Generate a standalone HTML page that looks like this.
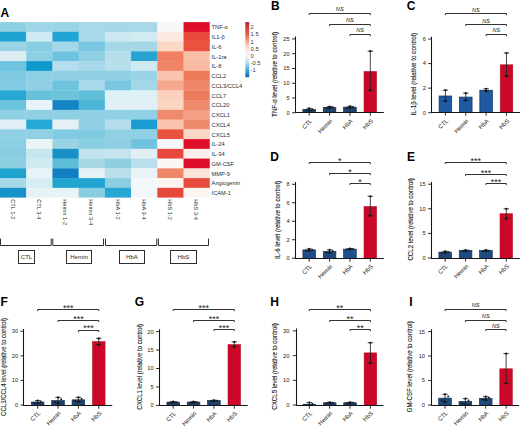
<!DOCTYPE html>
<html><head><meta charset="utf-8"><title>Figure</title>
<style>
html,body{margin:0;padding:0;background:#fff;}
body{width:520px;height:427px;overflow:hidden;}
svg{display:block;}
text{font-family:"Liberation Sans", sans-serif;fill:#1a1a1a;}
.th{stroke:#1a1a1a;stroke-width:0.1px;}
.rl{font-size:5.7px;fill:#2a2a2a;}
.cbl{font-size:5.8px;fill:#333;}
.cl{font-size:5.6px;fill:#2a2a2a;}
.gl{font-size:6.1px;text-anchor:middle;fill:#2a2a2a;}
.pl{font-size:12px;font-weight:bold;fill:#000;}
.tk{font-size:5.7px;text-anchor:end;fill:#222;}
.xl{font-size:6.0px;text-anchor:end;fill:#222;}
.yl{font-size:6.6px;}
.sg{font-size:9px;text-anchor:middle;fill:#222;}
.sgi{font-size:5.6px;text-anchor:middle;font-style:italic;}
</style></head>
<body><svg width="520" height="427" viewBox="0 0 520 427">
<rect width="520" height="427" fill="#fff"/>
<text x="0.4" y="16.9" class="pl">A</text>
<rect x="0.00" y="22.10" width="26.52" height="10.05" fill="#8ecfe4"/>
<rect x="26.22" y="22.10" width="26.52" height="10.05" fill="#9ed5e7"/>
<rect x="52.44" y="22.10" width="26.52" height="10.05" fill="#9ad3e6"/>
<rect x="78.66" y="22.10" width="26.52" height="10.05" fill="#a8d9ea"/>
<rect x="104.88" y="22.10" width="26.52" height="10.05" fill="#a5d7e6"/>
<rect x="131.10" y="22.10" width="26.52" height="10.05" fill="#a8d8e7"/>
<rect x="157.32" y="22.10" width="26.52" height="10.05" fill="#f7f7f7"/>
<rect x="183.54" y="22.10" width="26.22" height="10.05" fill="#e0102a"/>
<rect x="0.00" y="31.85" width="26.52" height="10.05" fill="#1ea4d3"/>
<rect x="26.22" y="31.85" width="26.52" height="10.05" fill="#d0eaf3"/>
<rect x="52.44" y="31.85" width="26.52" height="10.05" fill="#20a5d4"/>
<rect x="78.66" y="31.85" width="26.52" height="10.05" fill="#a8d9ea"/>
<rect x="104.88" y="31.85" width="26.52" height="10.05" fill="#cde8f1"/>
<rect x="131.10" y="31.85" width="26.52" height="10.05" fill="#d2eaf2"/>
<rect x="157.32" y="31.85" width="26.52" height="10.05" fill="#fdeae2"/>
<rect x="183.54" y="31.85" width="26.22" height="10.05" fill="#e84a3c"/>
<rect x="0.00" y="41.60" width="26.52" height="10.05" fill="#9ad3e6"/>
<rect x="26.22" y="41.60" width="26.52" height="10.05" fill="#86cce2"/>
<rect x="52.44" y="41.60" width="26.52" height="10.05" fill="#a2d6e8"/>
<rect x="78.66" y="41.60" width="26.52" height="10.05" fill="#78c6e0"/>
<rect x="104.88" y="41.60" width="26.52" height="10.05" fill="#a5d7e6"/>
<rect x="131.10" y="41.60" width="26.52" height="10.05" fill="#a5d7e6"/>
<rect x="157.32" y="41.60" width="26.52" height="10.05" fill="#fbd7c6"/>
<rect x="183.54" y="41.60" width="26.22" height="10.05" fill="#e9523f"/>
<rect x="0.00" y="51.35" width="26.52" height="10.05" fill="#dcedf4"/>
<rect x="26.22" y="51.35" width="26.52" height="10.05" fill="#8fd0e4"/>
<rect x="52.44" y="51.35" width="26.52" height="10.05" fill="#6ec3de"/>
<rect x="78.66" y="51.35" width="26.52" height="10.05" fill="#8fd0e4"/>
<rect x="104.88" y="51.35" width="26.52" height="10.05" fill="#b5deea"/>
<rect x="131.10" y="51.35" width="26.52" height="10.05" fill="#26a5d3"/>
<rect x="157.32" y="51.35" width="26.52" height="10.05" fill="#ef7f60"/>
<rect x="183.54" y="51.35" width="26.22" height="10.05" fill="#f9c0a8"/>
<rect x="0.00" y="61.10" width="26.52" height="10.05" fill="#6ec3de"/>
<rect x="26.22" y="61.10" width="26.52" height="10.05" fill="#0f9acf"/>
<rect x="52.44" y="61.10" width="26.52" height="10.05" fill="#b4dded"/>
<rect x="78.66" y="61.10" width="26.52" height="10.05" fill="#a8d9ea"/>
<rect x="104.88" y="61.10" width="26.52" height="10.05" fill="#b7dfeb"/>
<rect x="131.10" y="61.10" width="26.52" height="10.05" fill="#cfe9f1"/>
<rect x="157.32" y="61.10" width="26.52" height="10.05" fill="#f08466"/>
<rect x="183.54" y="61.10" width="26.22" height="10.05" fill="#f9bca3"/>
<rect x="0.00" y="70.85" width="26.52" height="10.05" fill="#7fc9e1"/>
<rect x="26.22" y="70.85" width="26.52" height="10.05" fill="#8dcfe4"/>
<rect x="52.44" y="70.85" width="26.52" height="10.05" fill="#8fd0e4"/>
<rect x="78.66" y="70.85" width="26.52" height="10.05" fill="#8fd0e4"/>
<rect x="104.88" y="70.85" width="26.52" height="10.05" fill="#8fd0e4"/>
<rect x="131.10" y="70.85" width="26.52" height="10.05" fill="#9ad3e6"/>
<rect x="157.32" y="70.85" width="26.52" height="10.05" fill="#f9c4ae"/>
<rect x="183.54" y="70.85" width="26.22" height="10.05" fill="#ee7a5c"/>
<rect x="0.00" y="80.60" width="26.52" height="10.05" fill="#80cae2"/>
<rect x="26.22" y="80.60" width="26.52" height="10.05" fill="#90d0e4"/>
<rect x="52.44" y="80.60" width="26.52" height="10.05" fill="#6ec3de"/>
<rect x="78.66" y="80.60" width="26.52" height="10.05" fill="#a8d9ea"/>
<rect x="104.88" y="80.60" width="26.52" height="10.05" fill="#78c6e0"/>
<rect x="131.10" y="80.60" width="26.52" height="10.05" fill="#a2d6e8"/>
<rect x="157.32" y="80.60" width="26.52" height="10.05" fill="#f6a88c"/>
<rect x="183.54" y="80.60" width="26.22" height="10.05" fill="#f08668"/>
<rect x="0.00" y="90.35" width="26.52" height="10.05" fill="#27a8d3"/>
<rect x="26.22" y="90.35" width="26.52" height="10.05" fill="#66c1db"/>
<rect x="52.44" y="90.35" width="26.52" height="10.05" fill="#6cc3dc"/>
<rect x="78.66" y="90.35" width="26.52" height="10.05" fill="#5fbfd9"/>
<rect x="104.88" y="90.35" width="26.52" height="10.05" fill="#dcf0f6"/>
<rect x="131.10" y="90.35" width="26.52" height="10.05" fill="#dcf0f6"/>
<rect x="157.32" y="90.35" width="26.52" height="10.05" fill="#fbd0bf"/>
<rect x="183.54" y="90.35" width="26.22" height="10.05" fill="#ee7a5c"/>
<rect x="0.00" y="100.10" width="26.52" height="10.05" fill="#6cc3dc"/>
<rect x="26.22" y="100.10" width="26.52" height="10.05" fill="#e9f4f8"/>
<rect x="52.44" y="100.10" width="26.52" height="10.05" fill="#1484c4"/>
<rect x="78.66" y="100.10" width="26.52" height="10.05" fill="#4ab5d7"/>
<rect x="104.88" y="100.10" width="26.52" height="10.05" fill="#e0f0f6"/>
<rect x="131.10" y="100.10" width="26.52" height="10.05" fill="#e0f0f6"/>
<rect x="157.32" y="100.10" width="26.52" height="10.05" fill="#fbd3c1"/>
<rect x="183.54" y="100.10" width="26.22" height="10.05" fill="#f08a6c"/>
<rect x="0.00" y="109.85" width="26.52" height="10.05" fill="#8fd0e4"/>
<rect x="26.22" y="109.85" width="26.52" height="10.05" fill="#8fd0e4"/>
<rect x="52.44" y="109.85" width="26.52" height="10.05" fill="#8fd0e4"/>
<rect x="78.66" y="109.85" width="26.52" height="10.05" fill="#8fd0e4"/>
<rect x="104.88" y="109.85" width="26.52" height="10.05" fill="#8fd0e4"/>
<rect x="131.10" y="109.85" width="26.52" height="10.05" fill="#8fd0e4"/>
<rect x="157.32" y="109.85" width="26.52" height="10.05" fill="#f08a6c"/>
<rect x="183.54" y="109.85" width="26.22" height="10.05" fill="#f4a084"/>
<rect x="0.00" y="119.60" width="26.52" height="10.05" fill="#e0eff5"/>
<rect x="26.22" y="119.60" width="26.52" height="10.05" fill="#27a7d5"/>
<rect x="52.44" y="119.60" width="26.52" height="10.05" fill="#e3f0f6"/>
<rect x="78.66" y="119.60" width="26.52" height="10.05" fill="#8fd0e4"/>
<rect x="104.88" y="119.60" width="26.52" height="10.05" fill="#b4dded"/>
<rect x="131.10" y="119.60" width="26.52" height="10.05" fill="#1a9ed1"/>
<rect x="157.32" y="119.60" width="26.52" height="10.05" fill="#f9c3ad"/>
<rect x="183.54" y="119.60" width="26.22" height="10.05" fill="#f08a6c"/>
<rect x="0.00" y="129.35" width="26.52" height="10.05" fill="#8fd0e4"/>
<rect x="26.22" y="129.35" width="26.52" height="10.05" fill="#8fd0e4"/>
<rect x="52.44" y="129.35" width="26.52" height="10.05" fill="#80cae2"/>
<rect x="78.66" y="129.35" width="26.52" height="10.05" fill="#80cae2"/>
<rect x="104.88" y="129.35" width="26.52" height="10.05" fill="#8fd0e4"/>
<rect x="131.10" y="129.35" width="26.52" height="10.05" fill="#8fd0e4"/>
<rect x="157.32" y="129.35" width="26.52" height="10.05" fill="#e8533f"/>
<rect x="183.54" y="129.35" width="26.22" height="10.05" fill="#fbd6c6"/>
<rect x="0.00" y="139.10" width="26.52" height="10.05" fill="#8acfe2"/>
<rect x="26.22" y="139.10" width="26.52" height="10.05" fill="#eaf5f8"/>
<rect x="52.44" y="139.10" width="26.52" height="10.05" fill="#9ad3e4"/>
<rect x="78.66" y="139.10" width="26.52" height="10.05" fill="#8acfe1"/>
<rect x="104.88" y="139.10" width="26.52" height="10.05" fill="#8dcfe1"/>
<rect x="131.10" y="139.10" width="26.52" height="10.05" fill="#6ec4de"/>
<rect x="157.32" y="139.10" width="26.52" height="10.05" fill="#f4f6f7"/>
<rect x="183.54" y="139.10" width="26.22" height="10.05" fill="#df0f2a"/>
<rect x="0.00" y="148.85" width="26.52" height="10.05" fill="#88cde0"/>
<rect x="26.22" y="148.85" width="26.52" height="10.05" fill="#c8e6ef"/>
<rect x="52.44" y="148.85" width="26.52" height="10.05" fill="#1790c8"/>
<rect x="78.66" y="148.85" width="26.52" height="10.05" fill="#c0e2ee"/>
<rect x="104.88" y="148.85" width="26.52" height="10.05" fill="#c5e4ee"/>
<rect x="131.10" y="148.85" width="26.52" height="10.05" fill="#e2f0f5"/>
<rect x="157.32" y="148.85" width="26.52" height="10.05" fill="#e8483c"/>
<rect x="183.54" y="148.85" width="26.22" height="10.05" fill="#fdf0ea"/>
<rect x="0.00" y="158.60" width="26.52" height="10.05" fill="#8ccfe1"/>
<rect x="26.22" y="158.60" width="26.52" height="10.05" fill="#d0eaf2"/>
<rect x="52.44" y="158.60" width="26.52" height="10.05" fill="#5dbdd9"/>
<rect x="78.66" y="158.60" width="26.52" height="10.05" fill="#a8d8e6"/>
<rect x="104.88" y="158.60" width="26.52" height="10.05" fill="#8dcfe1"/>
<rect x="131.10" y="158.60" width="26.52" height="10.05" fill="#b8dfeb"/>
<rect x="157.32" y="158.60" width="26.52" height="10.05" fill="#faf7f5"/>
<rect x="183.54" y="158.60" width="26.22" height="10.05" fill="#de0e2a"/>
<rect x="0.00" y="168.35" width="26.52" height="10.05" fill="#1ea3d0"/>
<rect x="26.22" y="168.35" width="26.52" height="10.05" fill="#e6f3f7"/>
<rect x="52.44" y="168.35" width="26.52" height="10.05" fill="#117fc2"/>
<rect x="78.66" y="168.35" width="26.52" height="10.05" fill="#e4f1f6"/>
<rect x="104.88" y="168.35" width="26.52" height="10.05" fill="#b8dfeb"/>
<rect x="131.10" y="168.35" width="26.52" height="10.05" fill="#eaf4f7"/>
<rect x="157.32" y="168.35" width="26.52" height="10.05" fill="#f0876a"/>
<rect x="183.54" y="168.35" width="26.22" height="10.05" fill="#fbe3d8"/>
<rect x="0.00" y="178.10" width="26.52" height="10.05" fill="#a6d8e6"/>
<rect x="26.22" y="178.10" width="26.52" height="10.05" fill="#d8edf4"/>
<rect x="52.44" y="178.10" width="26.52" height="10.05" fill="#22a4d1"/>
<rect x="78.66" y="178.10" width="26.52" height="10.05" fill="#22a4d1"/>
<rect x="104.88" y="178.10" width="26.52" height="10.05" fill="#8dcfe1"/>
<rect x="131.10" y="178.10" width="26.52" height="10.05" fill="#f2f7f9"/>
<rect x="157.32" y="178.10" width="26.52" height="10.05" fill="#fdf4f0"/>
<rect x="183.54" y="178.10" width="26.22" height="10.05" fill="#e84a3e"/>
<rect x="0.00" y="187.85" width="26.52" height="9.75" fill="#1592ca"/>
<rect x="26.22" y="187.85" width="26.52" height="9.75" fill="#e6f2f6"/>
<rect x="52.44" y="187.85" width="26.52" height="9.75" fill="#e8f3f7"/>
<rect x="78.66" y="187.85" width="26.52" height="9.75" fill="#88cde0"/>
<rect x="104.88" y="187.85" width="26.52" height="9.75" fill="#28a7d3"/>
<rect x="131.10" y="187.85" width="26.52" height="9.75" fill="#f3f7f9"/>
<rect x="157.32" y="187.85" width="26.52" height="9.75" fill="#e6473b"/>
<rect x="183.54" y="187.85" width="26.22" height="9.75" fill="#fef5f1"/>
<text x="211.6" y="29.38" class="rl">TNF-α</text>
<text x="211.6" y="39.12" class="rl">IL1-β</text>
<text x="211.6" y="48.88" class="rl">IL-6</text>
<text x="211.6" y="58.62" class="rl">IL-1ra</text>
<text x="211.6" y="68.38" class="rl">IL-8</text>
<text x="211.6" y="78.12" class="rl">CCL2</text>
<text x="211.6" y="87.88" class="rl">CCL3/CCL4</text>
<text x="211.6" y="97.62" class="rl">CCL7</text>
<text x="211.6" y="107.38" class="rl">CCL20</text>
<text x="211.6" y="117.12" class="rl">CXCL1</text>
<text x="211.6" y="126.88" class="rl">CXCL4</text>
<text x="211.6" y="136.62" class="rl">CXCL5</text>
<text x="211.6" y="146.38" class="rl">IL-24</text>
<text x="211.6" y="156.12" class="rl">IL-34</text>
<text x="211.6" y="165.88" class="rl">GM-CSF</text>
<text x="211.6" y="175.62" class="rl">MMP-9</text>
<text x="211.6" y="185.38" class="rl">Angiogenin</text>
<text x="211.6" y="195.12" class="rl">ICAM-1</text>
<defs><linearGradient id="cb" x1="0" y1="0" x2="0" y2="1"><stop offset="0" stop-color="#9a1a2a"/><stop offset="0.05" stop-color="#c8303a"/><stop offset="0.2" stop-color="#e25a4a"/><stop offset="0.33" stop-color="#f29a80"/><stop offset="0.45" stop-color="#fad8cc"/><stop offset="0.55" stop-color="#f7f0ee"/><stop offset="0.63" stop-color="#eaf2f7"/><stop offset="0.72" stop-color="#bfe2ef"/><stop offset="0.82" stop-color="#6cc0e0"/><stop offset="0.9" stop-color="#2a9fd2"/><stop offset="1" stop-color="#1565a0"/></linearGradient></defs>
<rect x="245.3" y="22.2" width="3.9" height="55" fill="url(#cb)"/>
<text x="250.6" y="29.20" class="cbl">2</text>
<text x="250.6" y="36.40" class="cbl">1.5</text>
<text x="250.6" y="43.60" class="cbl">1</text>
<text x="250.6" y="50.80" class="cbl">0.5</text>
<text x="250.6" y="58.00" class="cbl">0</text>
<text x="250.6" y="65.20" class="cbl">-0.5</text>
<text x="250.6" y="72.40" class="cbl">-1</text>
<text transform="translate(10.81,199.3) rotate(90)" x="0" y="0" class="cl">CTL 1-2</text>
<text transform="translate(37.03,199.3) rotate(90)" x="0" y="0" class="cl">CTL 3-4</text>
<text transform="translate(63.25,199.3) rotate(90)" x="0" y="0" class="cl">Hemin 1-2</text>
<text transform="translate(89.47,199.3) rotate(90)" x="0" y="0" class="cl">Hemin 3-4</text>
<text transform="translate(115.69,199.3) rotate(90)" x="0" y="0" class="cl">HbA 1-2</text>
<text transform="translate(141.91,199.3) rotate(90)" x="0" y="0" class="cl">HbA 3-4</text>
<text transform="translate(168.13,199.3) rotate(90)" x="0" y="0" class="cl">HbS 1-2</text>
<text transform="translate(194.35,199.3) rotate(90)" x="0" y="0" class="cl">HbS 3-4</text>
<g stroke="#2e2e2e" stroke-width="1" fill="none">
<path d="M0.50,238.6 V245.5 H51.20 V238.6"/>
<path d="M52.80,238.6 V245.5 H103.50 V238.6"/>
<path d="M105.50,238.6 V245.5 H156.80 V238.6"/>
<path d="M158.40,238.6 V245.5 H208.50 V238.6"/>
</g>
<rect x="18.50" y="250.5" width="16.00" height="13" fill="none" stroke="#2e2e2e" stroke-width="1"/>
<text x="26.50" y="259.4" class="gl">CTL</text>
<rect x="66.50" y="250.5" width="25.00" height="13" fill="none" stroke="#2e2e2e" stroke-width="1"/>
<text x="79.00" y="259.4" class="gl">Hemin</text>
<rect x="119.50" y="250.5" width="25.00" height="13" fill="none" stroke="#2e2e2e" stroke-width="1"/>
<text x="132.00" y="259.4" class="gl">HbA</text>
<rect x="170.50" y="250.5" width="26.00" height="13" fill="none" stroke="#2e2e2e" stroke-width="1"/>
<text x="183.50" y="259.4" class="gl">HbS</text>
<text x="271.00" y="10.40" class="pl">B</text>
<rect x="302.90" y="109.55" width="12.6" height="2.95" fill="#1f3d62" stroke="#142f52" stroke-width="0.7"/>
<rect x="323.27" y="107.48" width="12.6" height="5.02" fill="#1f416a" stroke="#142f52" stroke-width="0.7"/>
<rect x="343.64" y="107.18" width="12.6" height="5.32" fill="#1f426d" stroke="#142f52" stroke-width="0.7"/>
<rect x="364.01" y="71.42" width="12.6" height="41.08" fill="#cc0727" stroke="#a80a22" stroke-width="0.5"/>
<path d="M309.20,108.37 V110.44 M306.50,108.37 H311.90 M306.50,110.44 H311.90" stroke="#222" stroke-width="0.85" fill="none"/>
<circle cx="309.20" cy="108.37" r="1.1" fill="#111"/><circle cx="309.20" cy="110.44" r="1.1" fill="#111"/>
<circle cx="306.00" cy="110.29" r="1.0" fill="#0e1f33"/>
<circle cx="312.40" cy="109.26" r="1.0" fill="#0e1f33"/>
<path d="M329.57,106.59 V108.07 M326.87,106.59 H332.27 M326.87,108.07 H332.27" stroke="#222" stroke-width="0.85" fill="none"/>
<circle cx="329.57" cy="106.59" r="1.1" fill="#111"/><circle cx="329.57" cy="108.07" r="1.1" fill="#111"/>
<circle cx="326.37" cy="108.07" r="1.0" fill="#0e1f33"/>
<circle cx="332.77" cy="107.34" r="1.0" fill="#0e1f33"/>
<path d="M349.94,106.30 V107.77 M347.24,106.30 H352.64 M347.24,107.77 H352.64" stroke="#222" stroke-width="0.85" fill="none"/>
<circle cx="349.94" cy="106.30" r="1.1" fill="#111"/><circle cx="349.94" cy="107.77" r="1.1" fill="#111"/>
<circle cx="346.74" cy="107.78" r="1.0" fill="#0e1f33"/>
<circle cx="353.14" cy="107.04" r="1.0" fill="#0e1f33"/>
<path d="M370.31,51.20 V90.33 M367.61,51.20 H373.01 M367.61,90.33 H373.01" stroke="#222" stroke-width="0.85" fill="none"/>
<circle cx="370.31" cy="51.20" r="1.1" fill="#111"/><circle cx="370.31" cy="90.33" r="1.1" fill="#111"/>
<path d="M295.50,36.60 V112.50 H383.80" stroke="#151515" stroke-width="1.05" fill="none"/>
<path d="M292.00,112.80 H295.30" stroke="#151515" stroke-width="0.9"/>
<text x="289.70" y="114.70" class="tk">0</text>
<path d="M292.00,98.02 H295.30" stroke="#151515" stroke-width="0.9"/>
<text x="289.70" y="99.92" class="tk">5</text>
<path d="M292.00,83.24 H295.30" stroke="#151515" stroke-width="0.9"/>
<text x="289.70" y="85.14" class="tk">10</text>
<path d="M292.00,68.46 H295.30" stroke="#151515" stroke-width="0.9"/>
<text x="289.70" y="70.36" class="tk">15</text>
<path d="M292.00,53.68 H295.30" stroke="#151515" stroke-width="0.9"/>
<text x="289.70" y="55.58" class="tk">20</text>
<path d="M292.00,38.90 H295.30" stroke="#151515" stroke-width="0.9"/>
<text x="289.70" y="40.80" class="tk">25</text>
<path d="M309.20,112.50 V115.70" stroke="#151515" stroke-width="0.9"/>
<path d="M329.57,112.50 V115.70" stroke="#151515" stroke-width="0.9"/>
<path d="M349.94,112.50 V115.70" stroke="#151515" stroke-width="0.9"/>
<path d="M370.31,112.50 V115.70" stroke="#151515" stroke-width="0.9"/>
<text transform="translate(312.40,121.40) rotate(-45)" class="xl">CTL</text>
<text transform="translate(332.77,121.40) rotate(-45)" class="xl">Hemin</text>
<text transform="translate(353.14,121.40) rotate(-45)" class="xl">HbA</text>
<text transform="translate(373.51,121.40) rotate(-45)" class="xl">HbS</text>
<text transform="translate(276.80,116.90) rotate(-90)" class="yl th" textLength="85.00" lengthAdjust="spacingAndGlyphs">TNF-α level (relative to control)</text>
<path d="M309.20,15.10 V13.50 H370.31 V15.10" stroke="#333" stroke-width="1" fill="none"/>
<text x="339.75" y="11.30" class="sgi">NS</text>
<path d="M329.57,26.10 V24.50 H370.31 V26.10" stroke="#333" stroke-width="1" fill="none"/>
<text x="349.94" y="22.40" class="sgi">NS</text>
<path d="M349.94,36.10 V34.50 H370.31 V36.10" stroke="#333" stroke-width="1" fill="none"/>
<text x="360.12" y="32.20" class="sgi">NS</text>
<text x="406.70" y="10.40" class="pl">C</text>
<rect x="439.10" y="95.99" width="12.6" height="16.51" fill="#1d5aa2" stroke="#142f52" stroke-width="0.7"/>
<rect x="459.47" y="97.10" width="12.6" height="15.40" fill="#1d5aa2" stroke="#142f52" stroke-width="0.7"/>
<rect x="479.84" y="90.22" width="12.6" height="22.28" fill="#1d5aa2" stroke="#142f52" stroke-width="0.7"/>
<rect x="500.21" y="64.80" width="12.6" height="47.70" fill="#cc0727" stroke="#a80a22" stroke-width="0.5"/>
<path d="M445.40,90.22 V101.03 M442.70,90.22 H448.10 M442.70,101.03 H448.10" stroke="#222" stroke-width="0.85" fill="none"/>
<circle cx="445.40" cy="90.22" r="1.1" fill="#111"/><circle cx="445.40" cy="101.03" r="1.1" fill="#111"/>
<path d="M465.77,93.17 V100.42 M463.07,93.17 H468.47 M463.07,100.42 H468.47" stroke="#222" stroke-width="0.85" fill="none"/>
<circle cx="465.77" cy="93.17" r="1.1" fill="#111"/><circle cx="465.77" cy="100.42" r="1.1" fill="#111"/>
<path d="M486.14,88.75 V91.20 M483.44,88.75 H488.84 M483.44,91.20 H488.84" stroke="#222" stroke-width="0.85" fill="none"/>
<circle cx="486.14" cy="88.75" r="1.1" fill="#111"/><circle cx="486.14" cy="91.20" r="1.1" fill="#111"/>
<path d="M506.51,53.00 V76.10 M503.81,53.00 H509.21 M503.81,76.10 H509.21" stroke="#222" stroke-width="0.85" fill="none"/>
<circle cx="506.51" cy="53.00" r="1.1" fill="#111"/><circle cx="506.51" cy="76.10" r="1.1" fill="#111"/>
<path d="M431.50,36.70 V112.50 H520.00" stroke="#151515" stroke-width="1.05" fill="none"/>
<path d="M428.20,112.70 H431.50" stroke="#151515" stroke-width="0.9"/>
<text x="425.90" y="114.60" class="tk">0</text>
<path d="M428.20,88.13 H431.50" stroke="#151515" stroke-width="0.9"/>
<text x="425.90" y="90.03" class="tk">2</text>
<path d="M428.20,63.57 H431.50" stroke="#151515" stroke-width="0.9"/>
<text x="425.90" y="65.47" class="tk">4</text>
<path d="M428.20,39.00 H431.50" stroke="#151515" stroke-width="0.9"/>
<text x="425.90" y="40.90" class="tk">6</text>
<path d="M445.40,112.50 V115.70" stroke="#151515" stroke-width="0.9"/>
<path d="M465.77,112.50 V115.70" stroke="#151515" stroke-width="0.9"/>
<path d="M486.14,112.50 V115.70" stroke="#151515" stroke-width="0.9"/>
<path d="M506.51,112.50 V115.70" stroke="#151515" stroke-width="0.9"/>
<text transform="translate(448.60,121.30) rotate(-45)" class="xl">CTL</text>
<text transform="translate(468.97,121.30) rotate(-45)" class="xl">Hemin</text>
<text transform="translate(489.34,121.30) rotate(-45)" class="xl">HbA</text>
<text transform="translate(509.71,121.30) rotate(-45)" class="xl">HbS</text>
<text transform="translate(415.60,115.60) rotate(-90)" class="yl th" textLength="82.80" lengthAdjust="spacingAndGlyphs">IL-1β level (relative to control)</text>
<path d="M445.40,15.10 V13.50 H506.51 V15.10" stroke="#333" stroke-width="1" fill="none"/>
<text x="475.95" y="11.50" class="sgi">NS</text>
<path d="M465.77,26.10 V24.50 H506.51 V26.10" stroke="#333" stroke-width="1" fill="none"/>
<text x="486.14" y="22.60" class="sgi">NS</text>
<path d="M486.14,36.10 V34.50 H506.51 V36.10" stroke="#333" stroke-width="1" fill="none"/>
<text x="496.32" y="32.20" class="sgi">NS</text>
<text x="270.30" y="160.50" class="pl">D</text>
<rect x="302.90" y="249.89" width="12.6" height="8.61" fill="#1e4e87" stroke="#142f52" stroke-width="0.7"/>
<rect x="323.27" y="251.55" width="12.6" height="6.95" fill="#1e487a" stroke="#142f52" stroke-width="0.7"/>
<rect x="343.64" y="249.15" width="12.6" height="9.35" fill="#1e508d" stroke="#142f52" stroke-width="0.7"/>
<rect x="364.01" y="206.47" width="12.6" height="52.03" fill="#cc0727" stroke="#a80a22" stroke-width="0.5"/>
<path d="M309.20,248.96 V250.81 M306.50,248.96 H311.90 M306.50,250.81 H311.90" stroke="#222" stroke-width="0.85" fill="none"/>
<circle cx="309.20" cy="248.96" r="1.1" fill="#111"/><circle cx="309.20" cy="250.81" r="1.1" fill="#111"/>
<circle cx="306.00" cy="250.65" r="1.0" fill="#0e1f33"/>
<circle cx="312.40" cy="249.72" r="1.0" fill="#0e1f33"/>
<path d="M329.57,249.89 V252.66 M326.87,249.89 H332.27 M326.87,252.66 H332.27" stroke="#222" stroke-width="0.85" fill="none"/>
<circle cx="329.57" cy="249.89" r="1.1" fill="#111"/><circle cx="329.57" cy="252.66" r="1.1" fill="#111"/>
<circle cx="326.37" cy="252.40" r="1.0" fill="#0e1f33"/>
<circle cx="332.77" cy="251.02" r="1.0" fill="#0e1f33"/>
<path d="M349.94,248.50 V249.42 M347.24,248.50 H352.64 M347.24,249.42 H352.64" stroke="#222" stroke-width="0.85" fill="none"/>
<circle cx="349.94" cy="248.50" r="1.1" fill="#111"/><circle cx="349.94" cy="249.42" r="1.1" fill="#111"/>
<circle cx="346.74" cy="249.59" r="1.0" fill="#0e1f33"/>
<circle cx="353.14" cy="249.12" r="1.0" fill="#0e1f33"/>
<path d="M370.31,196.31 V215.71 M367.61,196.31 H373.01 M367.61,215.71 H373.01" stroke="#222" stroke-width="0.85" fill="none"/>
<circle cx="370.31" cy="196.31" r="1.1" fill="#111"/><circle cx="370.31" cy="215.71" r="1.1" fill="#111"/>
<path d="M295.50,182.00 V258.50 H383.80" stroke="#151515" stroke-width="1.05" fill="none"/>
<path d="M292.00,258.20 H295.30" stroke="#151515" stroke-width="0.9"/>
<text x="289.70" y="260.10" class="tk">0</text>
<path d="M292.00,239.72 H295.30" stroke="#151515" stroke-width="0.9"/>
<text x="289.70" y="241.62" class="tk">2</text>
<path d="M292.00,221.25 H295.30" stroke="#151515" stroke-width="0.9"/>
<text x="289.70" y="223.15" class="tk">4</text>
<path d="M292.00,202.78 H295.30" stroke="#151515" stroke-width="0.9"/>
<text x="289.70" y="204.68" class="tk">6</text>
<path d="M292.00,184.30 H295.30" stroke="#151515" stroke-width="0.9"/>
<text x="289.70" y="186.20" class="tk">8</text>
<path d="M309.20,258.50 V261.70" stroke="#151515" stroke-width="0.9"/>
<path d="M329.57,258.50 V261.70" stroke="#151515" stroke-width="0.9"/>
<path d="M349.94,258.50 V261.70" stroke="#151515" stroke-width="0.9"/>
<path d="M370.31,258.50 V261.70" stroke="#151515" stroke-width="0.9"/>
<text transform="translate(312.40,266.80) rotate(-45)" class="xl">CTL</text>
<text transform="translate(332.77,266.80) rotate(-45)" class="xl">Hemin</text>
<text transform="translate(353.14,266.80) rotate(-45)" class="xl">HbA</text>
<text transform="translate(373.51,266.80) rotate(-45)" class="xl">HbS</text>
<text transform="translate(279.70,258.90) rotate(-90)" class="yl th" textLength="78.00" lengthAdjust="spacingAndGlyphs">IL-6 level (relative to control)</text>
<path d="M309.20,164.10 V162.50 H370.31 V164.10" stroke="#333" stroke-width="1" fill="none"/>
<text x="339.75" y="164.20" class="sg">*</text>
<path d="M329.57,175.10 V173.50 H370.31 V175.10" stroke="#333" stroke-width="1" fill="none"/>
<text x="349.94" y="175.30" class="sg">*</text>
<path d="M349.94,185.10 V183.50 H370.31 V185.10" stroke="#333" stroke-width="1" fill="none"/>
<text x="360.12" y="184.60" class="sg">*</text>
<text x="407.10" y="160.60" class="pl">E</text>
<rect x="438.90" y="252.10" width="12.6" height="6.40" fill="#1e4675" stroke="#142f52" stroke-width="0.7"/>
<rect x="459.27" y="250.62" width="12.6" height="7.88" fill="#1e4b81" stroke="#142f52" stroke-width="0.7"/>
<rect x="479.64" y="250.62" width="12.6" height="7.88" fill="#1e4b81" stroke="#142f52" stroke-width="0.7"/>
<rect x="500.01" y="213.72" width="12.6" height="44.78" fill="#cc0727" stroke="#a80a22" stroke-width="0.5"/>
<path d="M445.20,251.36 V252.83 M442.50,251.36 H447.90 M442.50,252.83 H447.90" stroke="#222" stroke-width="0.85" fill="none"/>
<circle cx="445.20" cy="251.36" r="1.1" fill="#111"/><circle cx="445.20" cy="252.83" r="1.1" fill="#111"/>
<circle cx="442.00" cy="252.77" r="1.0" fill="#0e1f33"/>
<circle cx="448.40" cy="252.03" r="1.0" fill="#0e1f33"/>
<path d="M465.57,250.13 V251.11 M462.87,250.13 H468.27 M462.87,251.11 H468.27" stroke="#222" stroke-width="0.85" fill="none"/>
<circle cx="465.57" cy="250.13" r="1.1" fill="#111"/><circle cx="465.57" cy="251.11" r="1.1" fill="#111"/>
<circle cx="462.37" cy="251.17" r="1.0" fill="#0e1f33"/>
<circle cx="468.77" cy="250.67" r="1.0" fill="#0e1f33"/>
<path d="M485.94,250.13 V251.11 M483.24,250.13 H488.64 M483.24,251.11 H488.64" stroke="#222" stroke-width="0.85" fill="none"/>
<circle cx="485.94" cy="250.13" r="1.1" fill="#111"/><circle cx="485.94" cy="251.11" r="1.1" fill="#111"/>
<circle cx="482.74" cy="251.17" r="1.0" fill="#0e1f33"/>
<circle cx="489.14" cy="250.67" r="1.0" fill="#0e1f33"/>
<path d="M506.31,208.80 V218.64 M503.61,208.80 H509.01 M503.61,218.64 H509.01" stroke="#222" stroke-width="0.85" fill="none"/>
<circle cx="506.31" cy="208.80" r="1.1" fill="#111"/><circle cx="506.31" cy="218.64" r="1.1" fill="#111"/>
<path d="M431.50,181.90 V258.50 H519.80" stroke="#151515" stroke-width="1.05" fill="none"/>
<path d="M428.00,258.00 H431.30" stroke="#151515" stroke-width="0.9"/>
<text x="425.70" y="259.90" class="tk">0</text>
<path d="M428.00,233.40 H431.30" stroke="#151515" stroke-width="0.9"/>
<text x="425.70" y="235.30" class="tk">5</text>
<path d="M428.00,208.80 H431.30" stroke="#151515" stroke-width="0.9"/>
<text x="425.70" y="210.70" class="tk">10</text>
<path d="M428.00,184.20 H431.30" stroke="#151515" stroke-width="0.9"/>
<text x="425.70" y="186.10" class="tk">15</text>
<path d="M445.20,258.50 V261.70" stroke="#151515" stroke-width="0.9"/>
<path d="M465.57,258.50 V261.70" stroke="#151515" stroke-width="0.9"/>
<path d="M485.94,258.50 V261.70" stroke="#151515" stroke-width="0.9"/>
<path d="M506.31,258.50 V261.70" stroke="#151515" stroke-width="0.9"/>
<text transform="translate(448.40,266.60) rotate(-45)" class="xl">CTL</text>
<text transform="translate(468.77,266.60) rotate(-45)" class="xl">Hemin</text>
<text transform="translate(489.14,266.60) rotate(-45)" class="xl">HbA</text>
<text transform="translate(509.51,266.60) rotate(-45)" class="xl">HbS</text>
<text transform="translate(413.10,260.60) rotate(-90)" class="yl th" textLength="82.40" lengthAdjust="spacingAndGlyphs">CCL2 level (relative to control)</text>
<path d="M445.20,164.10 V162.50 H506.31 V164.10" stroke="#333" stroke-width="1" fill="none"/>
<text x="475.75" y="164.20" class="sg">***</text>
<path d="M465.57,176.10 V174.50 H506.31 V176.10" stroke="#333" stroke-width="1" fill="none"/>
<text x="485.94" y="175.70" class="sg">***</text>
<path d="M485.94,185.10 V183.50 H506.31 V185.10" stroke="#333" stroke-width="1" fill="none"/>
<text x="496.12" y="185.20" class="sg">***</text>
<text x="0.40" y="305.60" class="pl">F</text>
<rect x="31.35" y="402.05" width="12.6" height="3.45" fill="#1f3d62" stroke="#142f52" stroke-width="0.7"/>
<rect x="51.72" y="400.57" width="12.6" height="4.93" fill="#1f4069" stroke="#142f52" stroke-width="0.7"/>
<rect x="72.09" y="399.84" width="12.6" height="5.66" fill="#1f436f" stroke="#142f52" stroke-width="0.7"/>
<rect x="92.46" y="341.57" width="12.6" height="63.93" fill="#cc0727" stroke="#a80a22" stroke-width="0.5"/>
<path d="M37.65,400.57 V403.03 M34.95,400.57 H40.35 M34.95,403.03 H40.35" stroke="#222" stroke-width="0.85" fill="none"/>
<circle cx="37.65" cy="400.57" r="1.1" fill="#111"/><circle cx="37.65" cy="403.03" r="1.1" fill="#111"/>
<circle cx="34.45" cy="402.84" r="1.0" fill="#0e1f33"/>
<circle cx="40.85" cy="401.61" r="1.0" fill="#0e1f33"/>
<path d="M58.02,397.38 V403.03 M55.32,397.38 H60.72 M55.32,403.03 H60.72" stroke="#222" stroke-width="0.85" fill="none"/>
<circle cx="58.02" cy="397.38" r="1.1" fill="#111"/><circle cx="58.02" cy="403.03" r="1.1" fill="#111"/>
<circle cx="54.82" cy="402.10" r="1.0" fill="#0e1f33"/>
<circle cx="61.22" cy="399.28" r="1.0" fill="#0e1f33"/>
<path d="M78.39,397.38 V401.80 M75.69,397.38 H81.09 M75.69,401.80 H81.09" stroke="#222" stroke-width="0.85" fill="none"/>
<circle cx="78.39" cy="397.38" r="1.1" fill="#111"/><circle cx="78.39" cy="401.80" r="1.1" fill="#111"/>
<circle cx="75.19" cy="401.12" r="1.0" fill="#0e1f33"/>
<circle cx="81.59" cy="398.91" r="1.0" fill="#0e1f33"/>
<path d="M98.76,338.38 V344.77 M96.06,338.38 H101.46 M96.06,344.77 H101.46" stroke="#222" stroke-width="0.85" fill="none"/>
<circle cx="98.76" cy="338.38" r="1.1" fill="#111"/><circle cx="98.76" cy="344.77" r="1.1" fill="#111"/>
<path d="M23.50,328.95 V405.50 H112.25" stroke="#151515" stroke-width="1.05" fill="none"/>
<path d="M20.45,405.00 H23.75" stroke="#151515" stroke-width="0.9"/>
<text x="18.15" y="406.90" class="tk">0</text>
<path d="M20.45,380.42 H23.75" stroke="#151515" stroke-width="0.9"/>
<text x="18.15" y="382.32" class="tk">10</text>
<path d="M20.45,355.83 H23.75" stroke="#151515" stroke-width="0.9"/>
<text x="18.15" y="357.73" class="tk">20</text>
<path d="M20.45,331.25 H23.75" stroke="#151515" stroke-width="0.9"/>
<text x="18.15" y="333.15" class="tk">30</text>
<path d="M37.65,405.50 V408.70" stroke="#151515" stroke-width="0.9"/>
<path d="M58.02,405.50 V408.70" stroke="#151515" stroke-width="0.9"/>
<path d="M78.39,405.50 V408.70" stroke="#151515" stroke-width="0.9"/>
<path d="M98.76,405.50 V408.70" stroke="#151515" stroke-width="0.9"/>
<text transform="translate(40.85,413.60) rotate(-45)" class="xl">CTL</text>
<text transform="translate(61.22,413.60) rotate(-45)" class="xl">Hemin</text>
<text transform="translate(81.59,413.60) rotate(-45)" class="xl">HbA</text>
<text transform="translate(101.96,413.60) rotate(-45)" class="xl">HbS</text>
<text transform="translate(6.20,415.90) rotate(-90)" class="yl th" textLength="97.90" lengthAdjust="spacingAndGlyphs">CCL3/CCL4 level (relative to control)</text>
<path d="M37.65,311.10 V309.50 H98.76 V311.10" stroke="#333" stroke-width="1" fill="none"/>
<text x="68.20" y="310.80" class="sg">***</text>
<path d="M58.02,322.10 V320.50 H98.76 V322.10" stroke="#333" stroke-width="1" fill="none"/>
<text x="78.39" y="322.20" class="sg">***</text>
<path d="M78.39,332.10 V330.50 H98.76 V332.10" stroke="#333" stroke-width="1" fill="none"/>
<text x="88.57" y="331.40" class="sg">***</text>
<text x="134.80" y="305.60" class="pl">G</text>
<rect x="166.90" y="402.08" width="12.6" height="3.42" fill="#1f3d62" stroke="#142f52" stroke-width="0.7"/>
<rect x="187.27" y="402.08" width="12.6" height="3.42" fill="#1f3d62" stroke="#142f52" stroke-width="0.7"/>
<rect x="207.64" y="400.60" width="12.6" height="4.90" fill="#1f4069" stroke="#142f52" stroke-width="0.7"/>
<rect x="228.01" y="344.51" width="12.6" height="60.99" fill="#cc0727" stroke="#a80a22" stroke-width="0.5"/>
<path d="M173.20,401.71 V402.45 M170.50,401.71 H175.90 M170.50,402.45 H175.90" stroke="#222" stroke-width="0.85" fill="none"/>
<circle cx="173.20" cy="401.71" r="1.1" fill="#111"/><circle cx="173.20" cy="402.45" r="1.1" fill="#111"/>
<circle cx="170.00" cy="402.56" r="1.0" fill="#0e1f33"/>
<circle cx="176.40" cy="402.19" r="1.0" fill="#0e1f33"/>
<path d="M193.57,401.71 V402.45 M190.87,401.71 H196.27 M190.87,402.45 H196.27" stroke="#222" stroke-width="0.85" fill="none"/>
<circle cx="193.57" cy="401.71" r="1.1" fill="#111"/><circle cx="193.57" cy="402.45" r="1.1" fill="#111"/>
<circle cx="190.37" cy="402.56" r="1.0" fill="#0e1f33"/>
<circle cx="196.77" cy="402.19" r="1.0" fill="#0e1f33"/>
<path d="M213.94,400.23 V400.97 M211.24,400.23 H216.64 M211.24,400.97 H216.64" stroke="#222" stroke-width="0.85" fill="none"/>
<circle cx="213.94" cy="400.23" r="1.1" fill="#111"/><circle cx="213.94" cy="400.97" r="1.1" fill="#111"/>
<circle cx="210.74" cy="401.09" r="1.0" fill="#0e1f33"/>
<circle cx="217.14" cy="400.72" r="1.0" fill="#0e1f33"/>
<path d="M234.31,341.93 V346.73 M231.61,341.93 H237.01 M231.61,346.73 H237.01" stroke="#222" stroke-width="0.85" fill="none"/>
<circle cx="234.31" cy="341.93" r="1.1" fill="#111"/><circle cx="234.31" cy="346.73" r="1.1" fill="#111"/>
<path d="M159.50,329.30 V405.50 H247.80" stroke="#151515" stroke-width="1.05" fill="none"/>
<path d="M156.00,405.40 H159.30" stroke="#151515" stroke-width="0.9"/>
<text x="153.70" y="407.30" class="tk">0</text>
<path d="M156.00,386.95 H159.30" stroke="#151515" stroke-width="0.9"/>
<text x="153.70" y="388.85" class="tk">5</text>
<path d="M156.00,368.50 H159.30" stroke="#151515" stroke-width="0.9"/>
<text x="153.70" y="370.40" class="tk">10</text>
<path d="M156.00,350.05 H159.30" stroke="#151515" stroke-width="0.9"/>
<text x="153.70" y="351.95" class="tk">15</text>
<path d="M156.00,331.60 H159.30" stroke="#151515" stroke-width="0.9"/>
<text x="153.70" y="333.50" class="tk">20</text>
<path d="M173.20,405.50 V408.70" stroke="#151515" stroke-width="0.9"/>
<path d="M193.57,405.50 V408.70" stroke="#151515" stroke-width="0.9"/>
<path d="M213.94,405.50 V408.70" stroke="#151515" stroke-width="0.9"/>
<path d="M234.31,405.50 V408.70" stroke="#151515" stroke-width="0.9"/>
<text transform="translate(176.40,414.00) rotate(-45)" class="xl">CTL</text>
<text transform="translate(196.77,414.00) rotate(-45)" class="xl">Hemin</text>
<text transform="translate(217.14,414.00) rotate(-45)" class="xl">HbA</text>
<text transform="translate(237.51,414.00) rotate(-45)" class="xl">HbS</text>
<text transform="translate(141.50,409.70) rotate(-90)" class="yl th" textLength="85.80" lengthAdjust="spacingAndGlyphs">CXCL1 level (relative to control)</text>
<path d="M173.20,311.10 V309.50 H234.31 V311.10" stroke="#333" stroke-width="1" fill="none"/>
<text x="203.75" y="310.50" class="sg">***</text>
<path d="M193.57,322.10 V320.50 H234.31 V322.10" stroke="#333" stroke-width="1" fill="none"/>
<text x="213.94" y="321.70" class="sg">***</text>
<path d="M213.94,331.10 V329.50 H234.31 V331.10" stroke="#333" stroke-width="1" fill="none"/>
<text x="224.12" y="331.30" class="sg">***</text>
<text x="270.30" y="305.60" class="pl">H</text>
<rect x="303.00" y="404.26" width="12.6" height="1.24" fill="#1f3d62" stroke="#142f52" stroke-width="0.7"/>
<rect x="323.37" y="402.78" width="12.6" height="2.72" fill="#1f3d62" stroke="#142f52" stroke-width="0.7"/>
<rect x="343.74" y="402.78" width="12.6" height="2.72" fill="#1f3d62" stroke="#142f52" stroke-width="0.7"/>
<rect x="364.11" y="352.88" width="12.6" height="52.62" fill="#cc0727" stroke="#a80a22" stroke-width="0.5"/>
<path d="M309.30,402.53 V405.00 M306.60,402.53 H312.00 M306.60,405.00 H312.00" stroke="#222" stroke-width="0.85" fill="none"/>
<circle cx="309.30" cy="402.53" r="1.1" fill="#111"/><circle cx="309.30" cy="405.00" r="1.1" fill="#111"/>
<circle cx="306.10" cy="404.93" r="1.0" fill="#0e1f33"/>
<circle cx="312.50" cy="403.69" r="1.0" fill="#0e1f33"/>
<path d="M329.67,402.28 V403.27 M326.97,402.28 H332.37 M326.97,403.27 H332.37" stroke="#222" stroke-width="0.85" fill="none"/>
<circle cx="329.67" cy="402.28" r="1.1" fill="#111"/><circle cx="329.67" cy="403.27" r="1.1" fill="#111"/>
<circle cx="326.47" cy="403.32" r="1.0" fill="#0e1f33"/>
<circle cx="332.87" cy="402.83" r="1.0" fill="#0e1f33"/>
<path d="M350.04,402.28 V403.27 M347.34,402.28 H352.74 M347.34,403.27 H352.74" stroke="#222" stroke-width="0.85" fill="none"/>
<circle cx="350.04" cy="402.28" r="1.1" fill="#111"/><circle cx="350.04" cy="403.27" r="1.1" fill="#111"/>
<circle cx="346.84" cy="403.32" r="1.0" fill="#0e1f33"/>
<circle cx="353.24" cy="402.83" r="1.0" fill="#0e1f33"/>
<path d="M370.41,342.76 V363.01 M367.71,342.76 H373.11 M367.71,363.01 H373.11" stroke="#222" stroke-width="0.85" fill="none"/>
<circle cx="370.41" cy="342.76" r="1.1" fill="#111"/><circle cx="370.41" cy="363.01" r="1.1" fill="#111"/>
<path d="M296.50,328.60 V405.50 H383.50" stroke="#151515" stroke-width="1.05" fill="none"/>
<path d="M292.80,405.00 H296.10" stroke="#151515" stroke-width="0.9"/>
<text x="289.40" y="406.90" class="tk">0</text>
<path d="M292.80,380.30 H296.10" stroke="#151515" stroke-width="0.9"/>
<text x="289.40" y="382.20" class="tk">10</text>
<path d="M292.80,355.60 H296.10" stroke="#151515" stroke-width="0.9"/>
<text x="289.40" y="357.50" class="tk">20</text>
<path d="M292.80,330.90 H296.10" stroke="#151515" stroke-width="0.9"/>
<text x="289.40" y="332.80" class="tk">30</text>
<path d="M309.30,405.50 V408.70" stroke="#151515" stroke-width="0.9"/>
<path d="M329.67,405.50 V408.70" stroke="#151515" stroke-width="0.9"/>
<path d="M350.04,405.50 V408.70" stroke="#151515" stroke-width="0.9"/>
<path d="M370.41,405.50 V408.70" stroke="#151515" stroke-width="0.9"/>
<text transform="translate(312.50,413.60) rotate(-45)" class="xl">CTL</text>
<text transform="translate(332.87,413.60) rotate(-45)" class="xl">Hemin</text>
<text transform="translate(353.24,413.60) rotate(-45)" class="xl">HbA</text>
<text transform="translate(373.61,413.60) rotate(-45)" class="xl">HbS</text>
<text transform="translate(276.70,409.70) rotate(-90)" class="yl th" textLength="86.50" lengthAdjust="spacingAndGlyphs">CXCL5 level (relative to control)</text>
<path d="M309.30,311.10 V309.50 H370.41 V311.10" stroke="#333" stroke-width="1" fill="none"/>
<text x="339.86" y="310.70" class="sg">**</text>
<path d="M329.67,322.10 V320.50 H370.41 V322.10" stroke="#333" stroke-width="1" fill="none"/>
<text x="350.04" y="322.00" class="sg">**</text>
<path d="M350.04,331.10 V329.50 H370.41 V331.10" stroke="#333" stroke-width="1" fill="none"/>
<text x="360.23" y="331.30" class="sg">**</text>
<text x="409.30" y="305.60" class="pl">I</text>
<rect x="438.70" y="398.15" width="12.6" height="7.35" fill="#1e497d" stroke="#142f52" stroke-width="0.7"/>
<rect x="459.07" y="401.57" width="12.6" height="3.93" fill="#1f3d62" stroke="#142f52" stroke-width="0.7"/>
<rect x="479.44" y="398.39" width="12.6" height="7.11" fill="#1e487b" stroke="#142f52" stroke-width="0.7"/>
<rect x="499.81" y="368.79" width="12.6" height="36.71" fill="#cc0727" stroke="#a80a22" stroke-width="0.5"/>
<path d="M445.00,394.23 V402.06 M442.30,394.23 H447.70 M442.30,402.06 H447.70" stroke="#222" stroke-width="0.85" fill="none"/>
<circle cx="445.00" cy="394.23" r="1.1" fill="#111"/><circle cx="445.00" cy="402.06" r="1.1" fill="#111"/>
<circle cx="441.80" cy="400.41" r="1.0" fill="#0e1f33"/>
<circle cx="448.20" cy="396.49" r="1.0" fill="#0e1f33"/>
<path d="M465.37,398.64 V405.00 M462.67,398.64 H468.07 M462.67,405.00 H468.07" stroke="#222" stroke-width="0.85" fill="none"/>
<circle cx="465.37" cy="398.64" r="1.1" fill="#111"/><circle cx="465.37" cy="405.00" r="1.1" fill="#111"/>
<circle cx="462.17" cy="403.59" r="1.0" fill="#0e1f33"/>
<circle cx="468.57" cy="400.41" r="1.0" fill="#0e1f33"/>
<path d="M485.74,396.68 V400.11 M483.04,396.68 H488.44 M483.04,400.11 H488.44" stroke="#222" stroke-width="0.85" fill="none"/>
<circle cx="485.74" cy="396.68" r="1.1" fill="#111"/><circle cx="485.74" cy="400.11" r="1.1" fill="#111"/>
<circle cx="482.54" cy="399.55" r="1.0" fill="#0e1f33"/>
<circle cx="488.94" cy="397.84" r="1.0" fill="#0e1f33"/>
<path d="M506.11,353.62 V383.47 M503.41,353.62 H508.81 M503.41,383.47 H508.81" stroke="#222" stroke-width="0.85" fill="none"/>
<circle cx="506.11" cy="353.62" r="1.1" fill="#111"/><circle cx="506.11" cy="383.47" r="1.1" fill="#111"/>
<path d="M431.50,329.30 V405.50 H519.10" stroke="#151515" stroke-width="1.05" fill="none"/>
<path d="M428.10,405.00 H431.40" stroke="#151515" stroke-width="0.9"/>
<text x="425.00" y="406.90" class="tk">0</text>
<path d="M428.10,380.53 H431.40" stroke="#151515" stroke-width="0.9"/>
<text x="425.00" y="382.43" class="tk">5</text>
<path d="M428.10,356.07 H431.40" stroke="#151515" stroke-width="0.9"/>
<text x="425.00" y="357.97" class="tk">10</text>
<path d="M428.10,331.60 H431.40" stroke="#151515" stroke-width="0.9"/>
<text x="425.00" y="333.50" class="tk">15</text>
<path d="M445.00,405.50 V408.70" stroke="#151515" stroke-width="0.9"/>
<path d="M465.37,405.50 V408.70" stroke="#151515" stroke-width="0.9"/>
<path d="M485.74,405.50 V408.70" stroke="#151515" stroke-width="0.9"/>
<path d="M506.11,405.50 V408.70" stroke="#151515" stroke-width="0.9"/>
<text transform="translate(448.20,413.60) rotate(-45)" class="xl">CTL</text>
<text transform="translate(468.57,413.60) rotate(-45)" class="xl">Hemin</text>
<text transform="translate(488.94,413.60) rotate(-45)" class="xl">HbA</text>
<text transform="translate(509.31,413.60) rotate(-45)" class="xl">HbS</text>
<text transform="translate(412.30,412.30) rotate(-90)" class="yl th" textLength="91.00" lengthAdjust="spacingAndGlyphs">GM-CSF level (relative to control)</text>
<path d="M445.00,311.10 V309.50 H506.11 V311.10" stroke="#333" stroke-width="1" fill="none"/>
<text x="475.56" y="307.00" class="sgi">NS</text>
<path d="M465.37,322.10 V320.50 H506.11 V322.10" stroke="#333" stroke-width="1" fill="none"/>
<text x="485.74" y="318.30" class="sgi">NS</text>
<path d="M485.74,331.10 V329.50 H506.11 V331.10" stroke="#333" stroke-width="1" fill="none"/>
<text x="495.93" y="327.60" class="sgi">NS</text>
</svg></body></html>
